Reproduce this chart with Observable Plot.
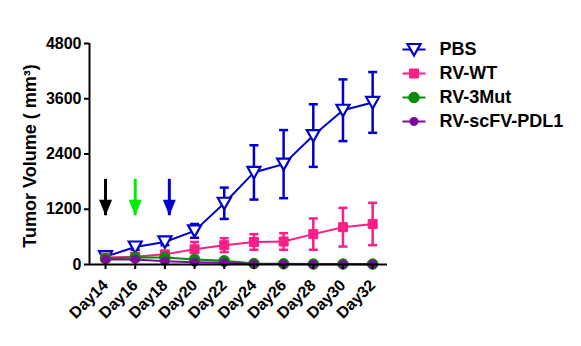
<!DOCTYPE html>
<html><head><meta charset="utf-8">
<script src="https://cdn.jsdelivr.net/npm/d3@7"></script>
<script src="https://cdn.jsdelivr.net/npm/@observablehq/plot@0.6"></script>
<style>
body{margin:0;background:#fff;font-family:"Liberation Sans",Arial,sans-serif;color:#000}
#wrap{position:relative;width:581px;height:346px}
#legend{position:absolute;left:390px;top:20px}
</style></head>
<body><div id="wrap"><div id="chart"></div><div id="legend"></div></div>
<script>
const days = [14, 16, 18, 20, 22, 24, 26, 28, 30, 32];
const seriesNames = ["PBS", "RV-WT", "RV-3Mut", "RV-scFV-PDL1"];
const pbsMean = [170, 380, 490, 730, 1330, 2000, 2180, 2800, 3350, 3520];
const pbsSem = [40, 60, 70, 150, 340, 590, 740, 680, 670, 660];
const wtMean = [150, 170, 220, 330, 420, 490, 500, 660, 810, 880];
const wtSem = [40, 40, 50, 160, 150, 170, 180, 340, 420, 460];
const mutMean = [130, 150, 150, 110, 80, 20, 15, 10, 10, 10];
const mutSem = [30, 30, 30, 30, 20, 10, 8, 5, 5, 5];
const pdlMean = [110, 110, 70, 50, 40, 10, 10, 5, 5, 5];
const pdlSem = [25, 25, 20, 15, 10, 5, 5, 3, 3, 3];
const yTicks = [0, 1200, 2400, 3600, 4800];
const arrowDays = [14, 16, 18.3];
const arrowTop = [1850, 1850, 1850];
const arrowTip = [1060, 1060, 1060];
const arrowColors = ["#000000", "#00EE00", "#0000CC"];

const colors = ["#0000CC", "#FA1E87", "#0A8A0A", "#7A0C9A"];
const means = [pbsMean, wtMean, mutMean, pdlMean];
const sems = [pbsSem, wtSem, mutSem, pdlSem];

const rows = [];
seriesNames.forEach((s, i) => days.forEach((d, j) => rows.push({
  series: s, day: d, mean: means[i][j], lo: means[i][j] - sems[i][j], hi: means[i][j] + sems[i][j]
})));
const arrows = arrowDays.map((d, i) => ({day: d, top: arrowTop[i], tip: arrowTip[i], color: arrowColors[i]}));

const sym = {
  tri: {draw(c) { c.moveTo(-6.5, -5.5); c.lineTo(6.5, -5.5); c.lineTo(0, 6); c.closePath(); }},
  square: {draw(c) { c.moveTo(-4.5, -4.5); c.lineTo(4.5, -4.5); c.lineTo(4.5, 4.5); c.lineTo(-4.5, 4.5); c.closePath(); }},
  cap: {draw(c) { c.moveTo(-4.5, 0); c.lineTo(4.5, 0); }},
  head: {draw(c) { c.moveTo(0, 0); c.lineTo(-6.5, -16); c.lineTo(6.5, -16); c.closePath(); }}
};
const markerFor = [
  {symbol: sym.tri, fill: "white", strokeWidth: 2.2},
  {symbol: sym.square, fill: colors[1], strokeWidth: 1},
  {symbol: "circle", r: 5.3, fill: colors[2], strokeWidth: 1},
  {symbol: "circle", r: 4.5, fill: colors[3], strokeWidth: 0}
];

const xMin = 12.92, xMax = 33.0;
const marks = [];
seriesNames.forEach((s, i) => {
  const data = rows.filter(r => r.series === s);
  marks.push(Plot.ruleX(data, {x: "day", y1: "lo", y2: "hi", stroke: colors[i], strokeWidth: 2.5}));
  marks.push(Plot.dot(data, {x: "day", y: "lo", symbol: sym.cap, stroke: colors[i], strokeWidth: 2.5, fill: "none"}));
  marks.push(Plot.dot(data, {x: "day", y: "hi", symbol: sym.cap, stroke: colors[i], strokeWidth: 2.5, fill: "none"}));
});
seriesNames.forEach((s, i) => {
  const data = rows.filter(r => r.series === s);
  marks.push(Plot.line(data, {x: "day", y: "mean", stroke: colors[i], strokeWidth: 2}));
  const m = markerFor[i];
  marks.push(Plot.dot(data, {x: "day", y: "mean", symbol: m.symbol, r: m.r, fill: m.fill,
    stroke: i === 3 ? colors[2] : colors[i], strokeWidth: m.strokeWidth}));
});
marks.push(Plot.ruleX(arrows, {x: "day", y1: "top", y2: "tip", stroke: "color", strokeWidth: 3}));
marks.push(Plot.dot(arrows, {x: "day", y: "tip", symbol: sym.head, fill: "color", stroke: "none"}));
marks.push(Plot.ruleX([xMin], {stroke: "#000", strokeWidth: 2}));
marks.push(Plot.ruleY([0], {stroke: "#000", strokeWidth: 2}));
marks.push(Plot.axisY({ticks: yTicks, tickFormat: d => String(d), tickSize: 5, tickPadding: 3, strokeWidth: 2, fontSize: 16, fontWeight: "bold", label: null}));
marks.push(Plot.axisX({ticks: days, tickFormat: d => "Day" + d, tickRotate: -45, tickSize: 5, tickPadding: 13, strokeWidth: 2, fontSize: 16, fontWeight: "bold", label: null}));
marks.push(Plot.text(["Tumor Volume ( mm³)"], {frameAnchor: "left", textAnchor: "middle", rotate: -90, dx: -59, dy: 2, fontSize: 18, fontWeight: "bold"}));

const chart = Plot.plot({
  width: 581, height: 346,
  marginLeft: 89, marginRight: 194, marginTop: 43, marginBottom: 82,
  x: {type: "linear", domain: [xMin, xMax]},
  y: {domain: [0, 4800]},
  style: {fontFamily: "'Liberation Sans', Arial, sans-serif", color: "#000", background: "white", overflow: "visible"},
  marks
});
document.getElementById("chart").appendChild(chart);

const legendMarks = [];
seriesNames.forEach((s, i) => {
  const m = markerFor[i];
  legendMarks.push(Plot.link([s], {x1: () => 0, x2: () => 1, y1: d => d, y2: d => d, stroke: colors[i], strokeWidth: 2}));
  legendMarks.push(Plot.dot([s], {x: () => 0.5, y: d => d, symbol: m.symbol, r: m.r, fill: m.fill,
    stroke: i === 3 ? colors[3] : colors[i], strokeWidth: m.strokeWidth}));
  legendMarks.push(Plot.text([s], {x: () => 1, y: d => d, text: d => d, dx: 14, textAnchor: "start", fontSize: 18, fontWeight: "bold", fill: "#000"}));
});
const legend = Plot.plot({
  width: 191, height: 130, margin: 0,
  x: {type: "linear", domain: [0, 1], range: [12, 35], axis: null},
  y: {type: "point", domain: seriesNames, range: [16, 113], axis: null},
  style: {fontFamily: "'Liberation Sans', Arial, sans-serif", color: "#000", background: "transparent", overflow: "visible"},
  marks: legendMarks
});
document.getElementById("legend").appendChild(legend);
</script>
</body></html>
